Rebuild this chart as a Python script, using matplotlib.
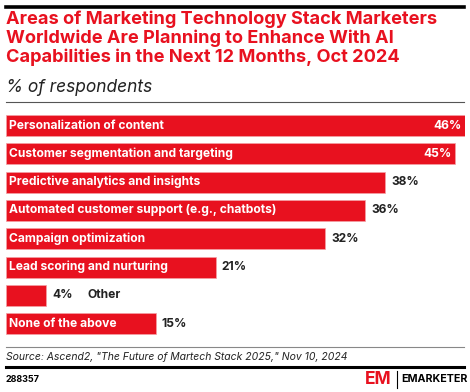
import matplotlib.pyplot as plt
from matplotlib.lines import Line2D

plt.rcParams['font.family'] = ['Inter', 'DejaVu Sans']

categories = ['Personalization of content', 'Customer segmentation and targeting',
              'Predictive analytics and insights', 'Automated customer support (e.g., chatbots)',
              'Campaign optimization', 'Lead scoring and nurturing', 'Other', 'None of the above']
values = [46, 45, 38, 36, 32, 21, 4, 15]

red = '#e8111f'
W, H = 470, 392

fig = plt.figure(figsize=(W / 100, H / 100), dpi=100)

def fx(px):
  return px / W

def fy(py):
  return 1 - py / H

# header
fig.add_artist(Line2D([fx(6), fx(464)], [fy(7), fy(7)], color='black', lw=2.6))
title = ('Areas of Marketing Technology Stack Marketers\n'
         'Worldwide Are Planning to Enhance With AI\n'
         'Capabilities in the Next 12 Months, Oct 2024')
fig.text(fx(6), fy(11), title, color=red, fontsize=13.1, fontweight='bold',
         va='top', ha='left', linespacing=1.08)
fig.text(fx(6), fy(88), '% of respondents', fontsize=12.5, style='italic',
         va='center', ha='left', color='#222222')
fig.add_artist(Line2D([fx(6), fx(464)], [fy(102), fy(102)], color='#555555', lw=0.8))

# bars
ax = fig.add_axes([fx(6), fy(337.8), fx(459), 226.4 / H])
ys = list(range(len(values)))
ax.barh(ys, values, height=0.74, color=red, edgecolor='#f3a0a5', linewidth=0.5)
ax.set_xlim(0, 46)
ax.set_ylim(len(values) - 0.5, -0.5)
ax.axis('off')

fs = 8.7
for y, cat, v in zip(ys, categories, values):
  if cat == 'Other':
    ax.text(v + 0.6, y, f'{v}%', va='center', ha='left', fontsize=fs,
            fontweight='bold', color='#222222')
    ax.text(v + 4.2, y, cat, va='center', ha='left', fontsize=fs,
            fontweight='bold', color='#222222')
    continue
  ax.text(0.3, y, cat, va='center', ha='left', fontsize=fs,
          fontweight='bold', color='white')
  if v >= 45:
    ax.text(v - 0.3, y, f'{v}%', va='center', ha='right', fontsize=fs,
            fontweight='bold', color='white')
  else:
    ax.text(v + 0.6, y, f'{v}%', va='center', ha='left', fontsize=fs,
            fontweight='bold', color='#222222')

# footer
fig.add_artist(Line2D([fx(6), fx(464)], [fy(347), fy(347)], color='#888888', lw=0.8))
fig.text(fx(6), fy(357), 'Source: Ascend2, "The Future of Martech Stack 2025," Nov 10, 2024',
         fontsize=7.5, style='italic', va='center', ha='left', color='#222222')
fig.add_artist(Line2D([fx(6), fx(464)], [fy(367), fy(367)], color='black', lw=2.2))
fig.text(fx(6), fy(379), '288357', fontsize=6.5, fontweight='bold', va='center', ha='left')
fig.text(fx(392), fy(379), 'EM', fontsize=12.5, fontweight='bold', color=red,
         va='center', ha='right')
fig.add_artist(Line2D([fx(397), fx(397)], [fy(371), fy(388)], color='black', lw=0.8))
fig.text(fx(401), fy(379), 'EMARKETER', fontsize=7.7, fontweight='bold',
         va='center', ha='left')

fig.savefig('out.png', dpi=100)
